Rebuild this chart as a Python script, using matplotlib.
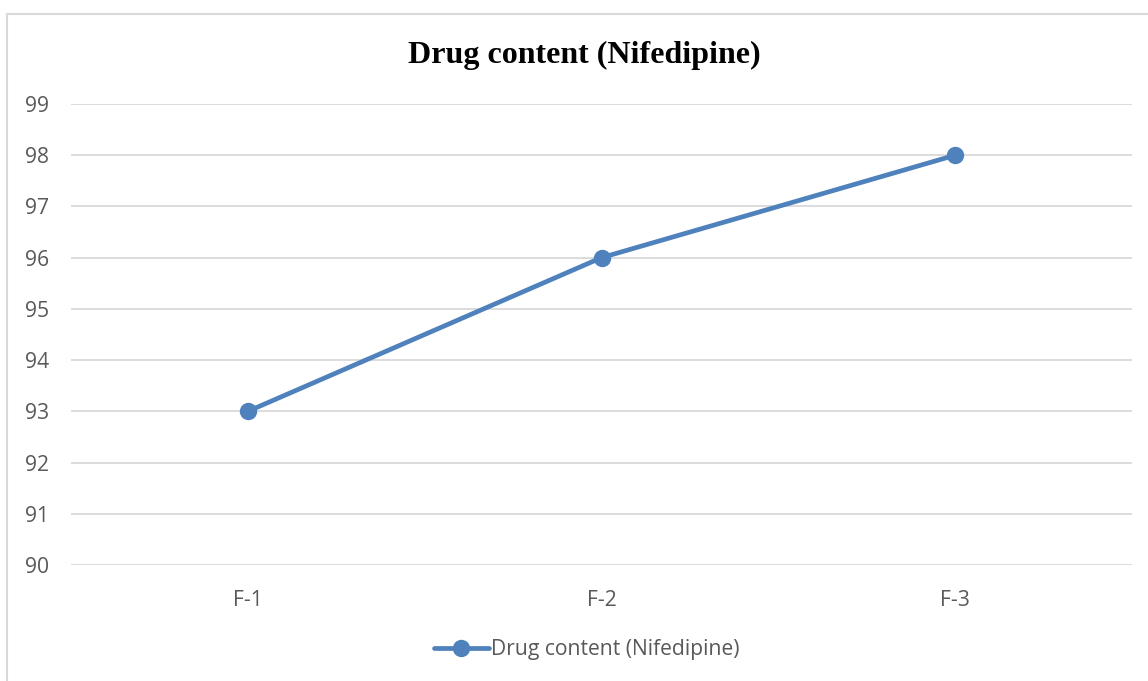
import matplotlib.pyplot as plt
from matplotlib.patches import Rectangle

W, H = 1148, 681

formulations = ["F-1", "F-2", "F-3"]
drug_content = [93, 96, 98]
y_ticks = [90, 91, 92, 93, 94, 95, 96, 97, 98, 99]
series_name = "Drug content (Nifedipine)"

fig = plt.figure(figsize=(W / 100, H / 100), dpi=100)

# chart area border (extends past right/bottom edges like the crop)
fig.patches.append(Rectangle((7 / W, -0.05), 1.2, 1 - 14 / H + 0.05,
                             transform=fig.transFigure, fill=False,
                             edgecolor="#D9D9D9", linewidth=1.5))

ax = fig.add_axes([71 / W, 1 - 565 / H, (1132 - 71) / W, (565 - 104) / H])
x = range(len(formulations))
ax.plot(x, drug_content, color="#4F81BD", linewidth=3.4, marker="o",
        markersize=11.5, label=series_name, solid_capstyle="round")

ax.set_xlim(-0.5, len(formulations) - 0.5)
ax.set_ylim(90, 99)
ax.set_yticks(y_ticks)
ax.set_xticks(list(x))
ax.set_xticklabels(formulations)
ax.yaxis.grid(True, color="#D9D9D9", linewidth=1.3)
ax.set_axisbelow(True)
for s in ax.spines.values():
    s.set_visible(False)
ax.tick_params(length=0, labelsize=15.2, colors="#595959")
ax.tick_params(axis="y", pad=16)
ax.tick_params(axis="x", pad=18)
for lab in ax.get_xticklabels() + ax.get_yticklabels():
    lab.set_fontfamily("Open Sans")

fig.text(584 / W, 1 - 55 / H, series_name, ha="center", va="center",
         fontsize=23, fontweight="bold", family="Liberation Serif")

leg = fig.legend(loc="center", bbox_to_anchor=(587 / W, 1 - 650 / H),
                 frameon=False, handlelength=2.6, handletextpad=0.12,
                 prop={"family": "Open Sans", "size": 15.2})
for t in leg.get_texts():
    t.set_color("#595959")

fig.savefig("out.png", dpi=100)
